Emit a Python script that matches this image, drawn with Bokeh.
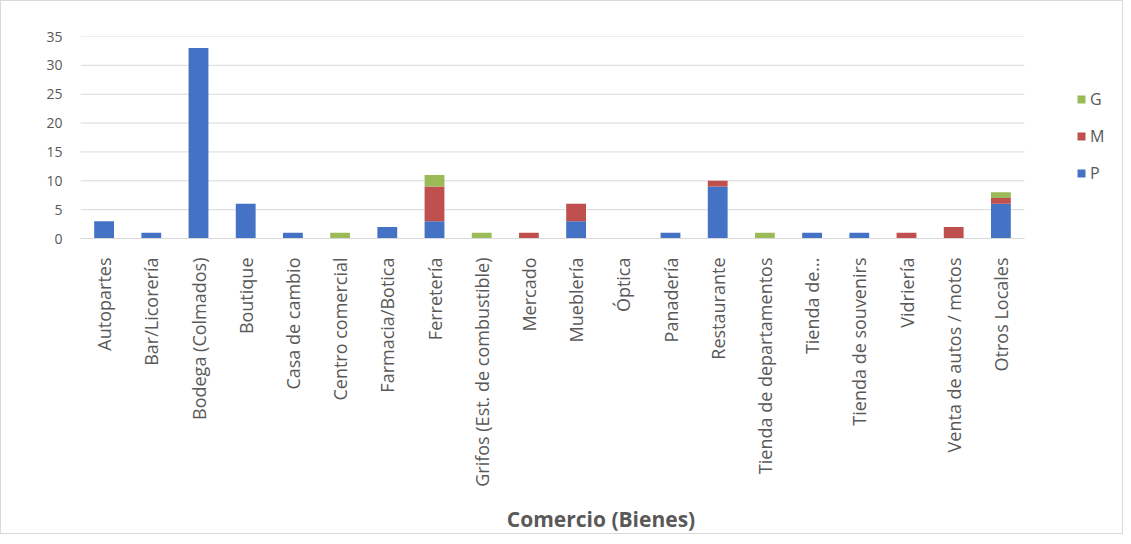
import math
from bokeh.plotting import figure
from bokeh.models import (ColumnDataSource, Range1d, Legend, LegendItem, FixedTicker)
from bokeh.embed import file_html
from bokeh.resources import INLINE

categories = ["Autopartes", "Bar/Licorería", "Bodega (Colmados)", "Boutique",
              "Casa de cambio", "Centro comercial", "Farmacia/Botica", "Ferretería",
              "Grifos (Est. de combustible)", "Mercado", "Mueblería", "Óptica",
              "Panadería", "Restaurante", "Tienda de departamentos", "Tienda de...",
              "Tienda de souvenirs", "Vidriería", "Venta de autos / motos", "Otros Locales"]
P = [3, 1, 33, 6, 1, 0, 2, 3, 0, 0, 3, 0, 1, 9, 0, 1, 1, 0, 0, 6]
M = [0, 0, 0, 0, 0, 0, 0, 6, 0, 1, 3, 0, 0, 1, 0, 0, 0, 1, 2, 1]
G = [0, 0, 0, 0, 0, 1, 0, 2, 1, 0, 0, 0, 0, 0, 1, 0, 0, 0, 0, 1]
y_ticks = [0, 5, 10, 15, 20, 25, 30, 35]

series = ["P", "M", "G"]
colors = ["#4472C4", "#C0504D", "#9BBB59"]

n = len(categories)
xs = list(range(1, n + 1))
source = ColumnDataSource(dict(x=xs, cat=categories, P=P, M=M, G=G))

FONT = "Open Sans"
GRAY = "#595959"

W, H = 1123, 534
LEFT, RIGHT, TOP, BOTTOM = 79, 3, 35, 297
frame_w = W - LEFT - RIGHT
cat_px = 944 / n  # pixel width of one category in the plotting area
x_end = 0.5 + frame_w / cat_px

p = figure(x_range=Range1d(0.5, x_end), y_range=Range1d(0, max(y_ticks)),
           width=W, height=H, output_backend="svg", toolbar_location=None,
           min_border_left=LEFT, min_border_right=RIGHT, min_border_top=TOP,
           min_border_bottom=BOTTOM)
p.styles = {"border": "1px solid #d9d9d9"}

# horizontal gridlines limited to the category area
p.segment(x0=0.5, x1=n + 0.5, y0=y_ticks, y1=y_ticks, line_color="#d9d9d9",
          line_width=1, level="underlay")

renderers = p.vbar_stack(series, x="x", width=0.42, color=colors, source=source,
                         line_color=None)

legend = Legend(items=[LegendItem(label=s, renderers=[r])
                       for s, r in reversed(list(zip(series, renderers)))],
                location=(996, 54), border_line_color=None, background_fill_alpha=0,
                border_line_alpha=0,
                padding=0, margin=0, spacing=15, label_height=20,
                glyph_height=10, glyph_width=10, label_standoff=4,
                label_text_font=FONT, label_text_font_size="16px",
                label_text_color=GRAY)
p.add_layout(legend, "center")

p.outline_line_color = None
p.xgrid.grid_line_color = None
p.ygrid.grid_line_color = None

p.yaxis.ticker = FixedTicker(ticks=y_ticks)
p.yaxis.axis_line_color = None
p.yaxis.major_tick_line_color = None
p.yaxis.minor_tick_line_color = None
p.yaxis.major_label_text_font = FONT
p.yaxis.major_label_text_font_size = "14px"
p.yaxis.major_label_text_color = GRAY
p.yaxis.major_label_standoff = 12

p.xaxis.ticker = FixedTicker(ticks=xs)
p.xaxis.major_label_overrides = {x: c for x, c in zip(xs, categories)}
p.xaxis.bounds = (0.5, n + 0.5)
p.xaxis.axis_line_color = "#d9d9d9"
p.xaxis.major_tick_line_color = None
p.xaxis.minor_tick_line_color = None
p.xaxis.major_label_orientation = math.pi / 2
p.xaxis.major_label_text_font = FONT
p.xaxis.major_label_text_font_size = "18px"
p.xaxis.major_label_text_color = GRAY
p.xaxis.major_label_standoff = 13
p.xaxis.axis_label = "Comercio (Bienes)"
p.xaxis.axis_label_text_font = FONT
p.xaxis.axis_label_text_font_size = "21px"
p.xaxis.axis_label_text_font_style = "bold"
p.xaxis.axis_label_text_color = GRAY
p.xaxis.axis_label_standoff = 15

open("out.html", "w").write(file_html(p, INLINE))
